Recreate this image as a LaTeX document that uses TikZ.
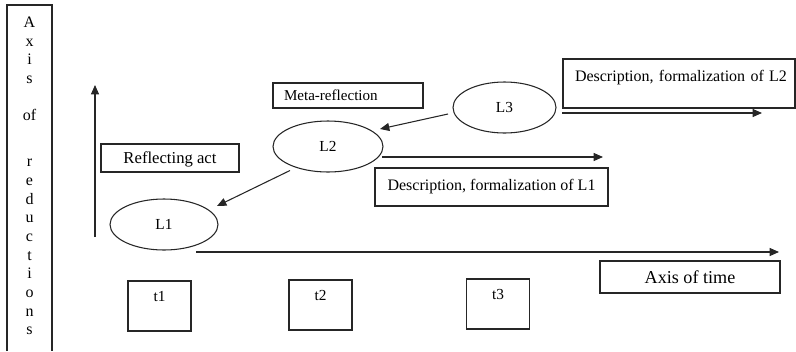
\documentclass[tikz,border=0pt]{standalone}
\usepackage{fontspec}
\setmainfont{Liberation Serif}
\usetikzlibrary{arrows.meta,calc,shapes.geometric}
\begin{document}
\begin{tikzpicture}[x=0.75pt,y=-0.75pt,
  ln/.style={draw=black!85, line width=0.8pt},
  box/.style={ln, rectangle, inner sep=0pt},
  ell/.style={ln, ellipse, inner sep=0pt, minimum height=38.25pt, font=\fontsize{11.5}{13}\selectfont},
  arr/.style={ln, -{Triangle[length=7pt,width=6pt]}},
  tbox/.style={box, minimum width=47.25pt, text height=15pt, text depth=22.5pt, font=\fontsize{11.5}{13}\selectfont},
  desc/.style={font=\fontsize{12}{14}\selectfont}
]
\useasboundingbox (0,0) rectangle (796,351);
% vertical axis box
\draw[ln] (7,351) -- (7,5) -- (52,5) -- (52,351);
\node[anchor=north, align=center, inner sep=0pt, font=\fontsize{12}{14}\selectfont] (vax) at (29.5,16.5)
  {A\\x\\i\\s\\[14pt]of\\[20.5pt]r\\e\\d\\u\\c\\t\\i\\o\\n\\s};
% vertical arrow
\coordinate (vs) at (95,237);
\coordinate (ve) at (95,85);
\draw[arr] (vs) -- (ve);
% boxes
\node[box, minimum width=103.5pt, minimum height=21pt, text height=9pt, text depth=1pt, font=\fontsize{12.5}{14}\selectfont] (refl) at (170,158) {Reflecting act};
\node[box, minimum height=18.75pt, inner xsep=8.25pt, text width=96pt, align=left, font=\fontsize{11.3}{13}\selectfont] (meta) at (348,95.5) {Meta-reflection};
\node[box, inner xsep=9pt, text width=156pt, align=left, text height=16.5pt, text depth=20.25pt, desc] (d2) at (679,83.5) {\mbox{Description, formalization of L2}\hfill};
\node[box, minimum width=174.75pt, minimum height=28.5pt, desc] (d1) at (491.5,187) {Description, formalization of L1};
\node[box, minimum width=135pt, minimum height=24pt, font=\fontsize{13.6}{15}\selectfont] (axt) at (690,277) {Axis of time};
% ellipses
\node[ell, minimum width=81pt] (L1) at (164,224.5) {L1};
\node[ell, minimum width=82.5pt] (L2) at (328,146.5) {L2};
\node[ell, minimum width=77.25pt] (L3) at (504.5,107.5) {L3};
% time boxes
\node[tbox] (t1) at (159.5,306) {t1};
\node[tbox] (t2) at (320.5,305) {t2};
\node[tbox] (t3) at (498,304) {t3};
% arrows
\draw[arr] ($(L2)+(-38,24)$) -- ($(L1)+(53,-18.5)$);
\draw[arr] ($(L3)+(-56.5,6.5)$) -- ($(L2)+(52,-17.5)$);
\coordinate (e2) at (603,157);
\draw[arr] ($(L2)+(54,10.5)$) -- (e2);
\coordinate (e3) at (762,113);
\draw[arr] ($(L3)+(57.5,5.5)$) -- (e3);
\coordinate (ts) at (196,252);
\coordinate (te) at (779,252);
\draw[arr] (ts) -- (te);
\end{tikzpicture}
\end{document}
